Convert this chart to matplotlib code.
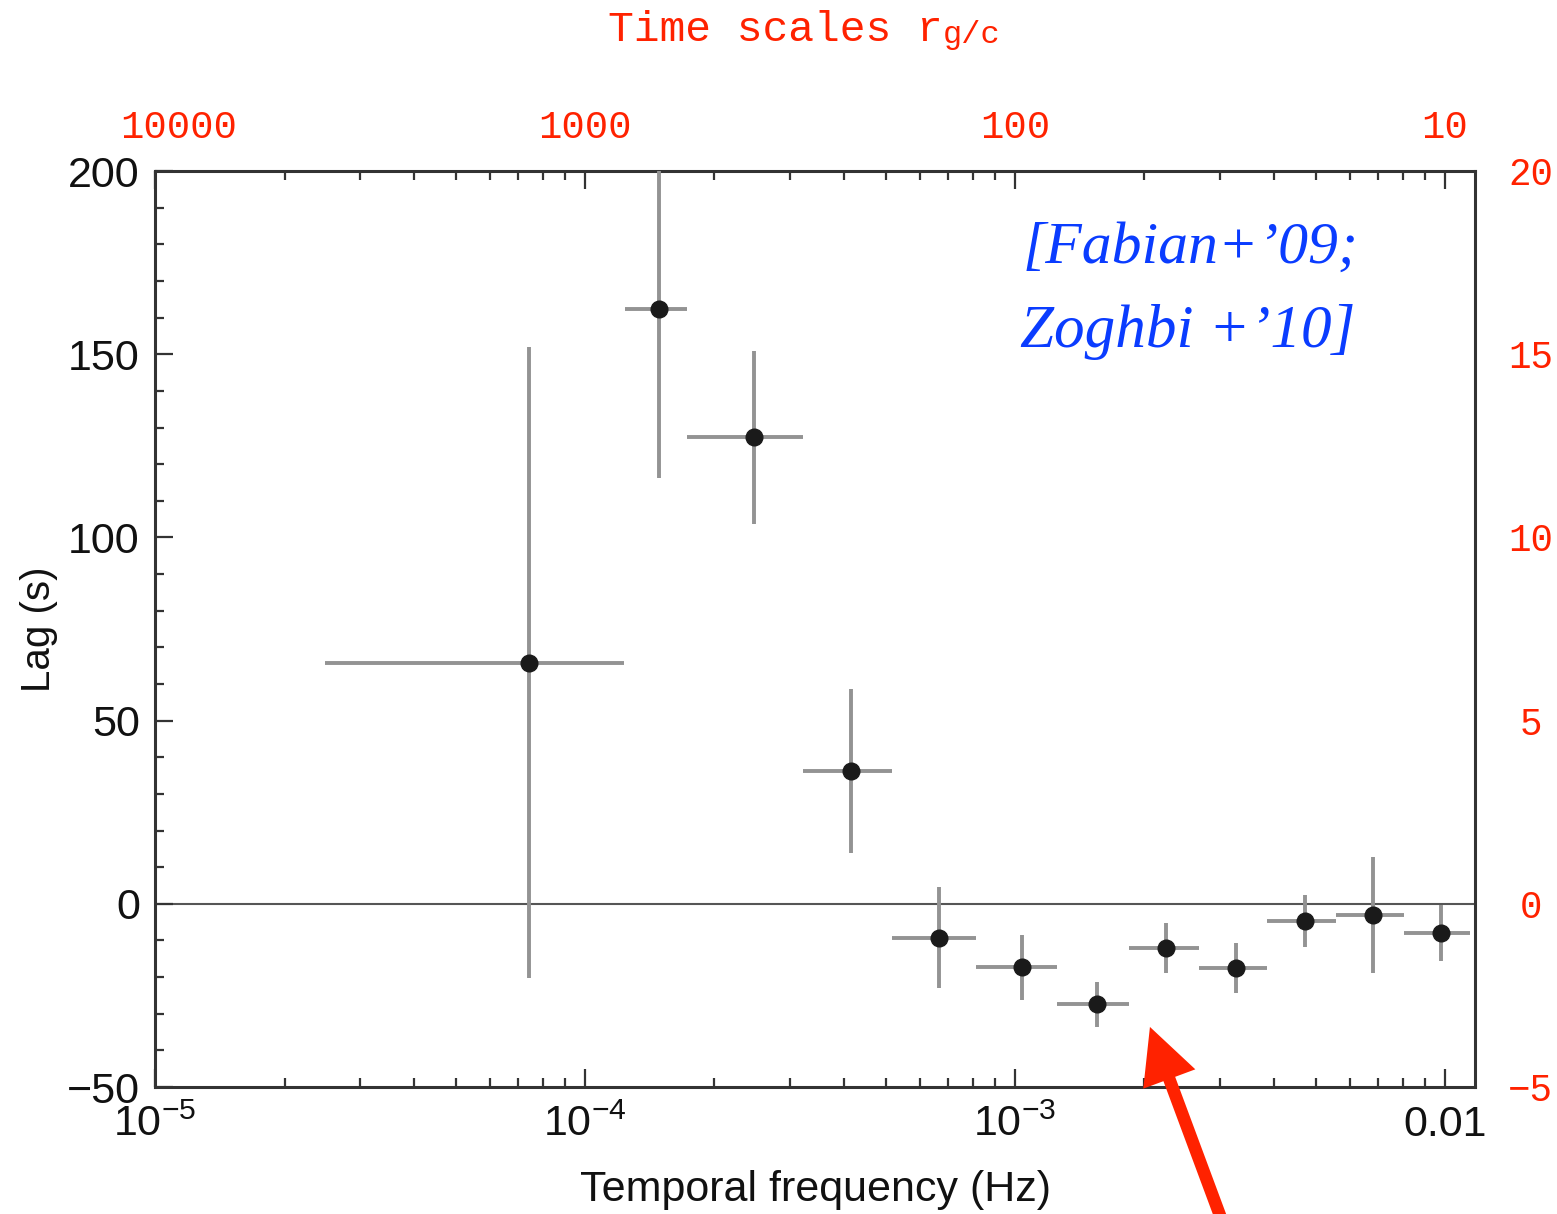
import numpy as np
import matplotlib.pyplot as plt
from matplotlib import transforms
from matplotlib.ticker import FixedLocator, FixedFormatter, MultipleLocator, LogLocator, NullFormatter

# Lag-frequency spectrum: frequency bins (Hz) with bin edges, lag (s) with error range
freq = np.array([7.41e-5, 1.486e-4, 2.47e-4, 4.16e-4, 6.65e-4, 1.038e-3,
                 1.553e-3, 2.25e-3, 3.27e-3, 4.72e-3, 6.81e-3, 9.80e-3])
freq_lo = np.array([2.48e-5, 1.239e-4, 1.726e-4, 3.21e-4, 5.18e-4, 8.11e-4,
                    1.253e-3, 1.84e-3, 2.68e-3, 3.86e-3, 5.59e-3, 8.04e-3])
freq_hi = np.array([1.233e-4, 1.726e-4, 3.21e-4, 5.18e-4, 8.11e-4, 1.253e-3,
                    1.84e-3, 2.68e-3, 3.86e-3, 5.59e-3, 8.04e-3, 1.143e-2])
lag = np.array([65.8, 162.3, 127.3, 36.3, -9.3, -17.2,
                -27.3, -12.0, -17.5, -4.6, -3.0, -7.9])
lag_lo = np.array([-20.2, 116.1, 103.8, 13.9, -23.0, -26.2,
                   -33.6, -18.9, -24.3, -11.7, -18.9, -15.6])
lag_hi = np.array([151.9, 209.0, 150.8, 58.7, 4.6, -8.5,
                   -21.3, -5.2, -10.7, 2.5, 12.8, -0.3])

# Axis ticks
x_ticks = [1e-5, 1e-4, 1e-3, 1e-2]
x_ticklabels = [r'$\mathregular{10^{-5}}$', r'$\mathregular{10^{-4}}$',
                r'$\mathregular{10^{-3}}$', '0.01']
y_ticks = [-50, 0, 50, 100, 150, 200]

# Time scales in units of r_g/c and the frequency each one sits on
rg_labels = ['10000', '1000', '100', '10']
rg_freq = [1e-5, 1e-4, 1e-3, 1e-2]
right_ticks = [-5, 0, 5, 10, 15, 20]

# Where the arrow points (the dip in the lags)
arrow_freq = 2.06e-3
arrow_lag = -33.6

RED = '#ff2200'
BLUE = '#0a3cff'
FRAME = '#333333'

plt.rcParams['font.family'] = ['Liberation Sans', 'DejaVu Sans']
plt.rcParams['mathtext.default'] = 'regular'


def plot_lags():
    fig = plt.figure(figsize=(15.57, 12.14), dpi=100)
    ax = fig.add_axes([0.0996, 0.1046, 0.8477, 0.7545])

    ax.axhline(0, color='#555555', lw=1.5, zorder=1)
    ax.errorbar(freq, lag,
                xerr=[freq - freq_lo, freq_hi - freq],
                yerr=[lag - lag_lo, lag_hi - lag],
                fmt='o', color='#1a1a1a', markersize=12,
                ecolor='#939393', elinewidth=2.8, capsize=0, zorder=3)

    ax.set_xscale('log')
    ax.set_xlim(1e-5, 10 ** (-5 + 1320 / 430))
    ax.set_ylim(-50, 200)

    # Ticks on all four sides, pointing in
    ax.xaxis.set_major_locator(FixedLocator(x_ticks))
    ax.xaxis.set_major_formatter(FixedFormatter(x_ticklabels))
    ax.xaxis.set_minor_locator(LogLocator(base=10, subs=np.arange(2, 10)))
    ax.xaxis.set_minor_formatter(NullFormatter())
    ax.yaxis.set_major_locator(FixedLocator(y_ticks))
    ax.yaxis.set_minor_locator(MultipleLocator(10))
    ax.tick_params(which='both', direction='in', top=True, right=True,
                   color=FRAME, width=1.6, labelsize=31, labelcolor='#111111')
    ax.tick_params(which='major', length=13)
    ax.tick_params(which='minor', length=6.5)
    ax.tick_params(axis='y', pad=11)
    ax.tick_params(axis='x', pad=13)
    for spine in ax.spines.values():
        spine.set_color(FRAME)
        spine.set_linewidth(2.2)

    ax.set_xlabel('Temporal frequency (Hz)', fontsize=31, labelpad=18, color='#111111')
    ax.set_ylabel('Lag (s)', fontsize=29, labelpad=6, color='#111111')

    # Red scale on the right (lag in r_g/c)
    ax2 = ax.twinx()
    ax2.set_ylim(-5, 20)
    ax2.yaxis.set_major_locator(FixedLocator(right_ticks))
    ax2.yaxis.set_major_formatter(FixedFormatter(
        [str(v).replace('-', '\u2212') for v in right_ticks]))
    ax2.tick_params(axis='y', length=0, pad=40, labelsize=27, labelcolor=RED)
    for t in ax2.get_yticklabels():
        t.set_horizontalalignment('center')
        t.set_family('Liberation Mono')
    for spine in ax2.spines.values():
        spine.set_visible(False)

    # Red time-scale labels along the top
    top = transforms.blended_transform_factory(ax.transData, ax.transAxes)
    for i, (f, lbl) in enumerate(zip(rg_freq, rg_labels)):
        shift = 17 if i == 0 else 0
        ax.annotate(lbl, xy=(f, 1.036), xycoords=top,
                    xytext=(shift, 0), textcoords='offset points',
                    ha='center', va='baseline', fontsize=28,
                    family='Liberation Mono', color=RED, annotation_clip=False)

    t = fig.text(0.3905, 0.966, 'Time scales r', fontsize=31,
                 family='Liberation Mono', color=RED, va='baseline')
    ax.annotate('g/c', xy=(1, 0), xycoords=t, va='bottom', ha='left',
                fontsize=23, family='Liberation Mono', color=RED)

    # Reference note
    ax.text(0.657, 0.8996, '[Fabian+\u201909;', transform=ax.transAxes,
            fontsize=43, style='italic', family='Liberation Serif', color=BLUE,
            va='baseline')
    ax.text(0.655, 0.808, 'Zoghbi +\u201910]', transform=ax.transAxes,
            fontsize=44, style='italic', family='Liberation Serif', color=BLUE,
            va='baseline')

    # Arrow pointing at the negative lags
    ax.annotate('', xy=(arrow_freq, arrow_lag), xycoords='data',
                xytext=(0.789, -0.02), textcoords='figure fraction',
                arrowprops=dict(width=9, headwidth=40, headlength=40, shrink=0,
                                facecolor=RED, edgecolor=RED, linewidth=0),
                annotation_clip=False, zorder=5)

    fig.savefig('out.png', dpi=100)


if __name__ == '__main__':
    plot_lags()
